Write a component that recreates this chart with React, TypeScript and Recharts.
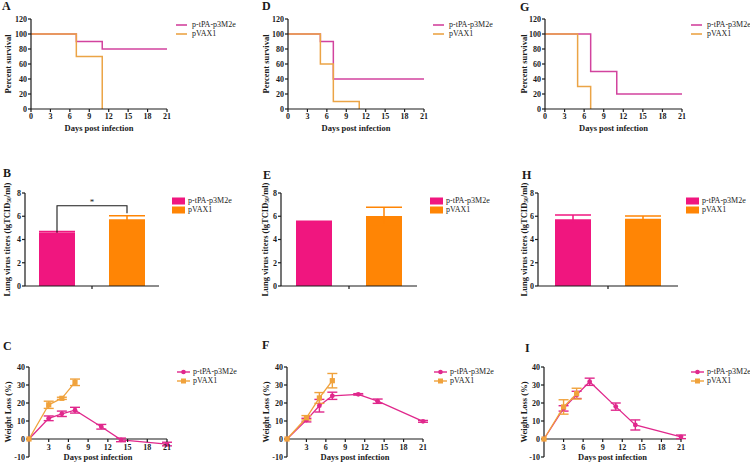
import React from 'react'
import { LineChart, Line, BarChart, Bar, XAxis, YAxis, ErrorBar, ReferenceLine } from 'recharts'

const FONT = '"Liberation Serif", "Times New Roman", serif'
const INK = '#1a1a1a'

const PINK_LINE = '#d2439e'
const ORANGE_LINE = '#eba446'
const PINK_BAR = '#f0167f'
const ORANGE_BAR = '#ff8505'
const PINK_W = '#e0288c'
const ORANGE_W = '#f0a23c'

const seriesNames = ['p-tPA-p3M2e', 'pVAX1']

const dayTicks = [0, 3, 6, 9, 12, 15, 18, 21]
const weightDayTicks = [3, 6, 9, 12, 15, 18, 21]
const survivalTicks = [0, 20, 40, 60, 80, 100, 120]
const titerTicks = [0, 2, 4, 6, 8]
const weightTicks = [-10, 0, 10, 20, 30, 40]

// survival curves (A, D, G)
const survA_tpaDays = [0, 7, 11, 21]
const survA_tpa = [100, 90, 80, 80]
const survA_vaxDays = [0, 7, 11]
const survA_vax = [100, 70, 0]

const survD_tpaDays = [0, 5, 7, 21]
const survD_tpa = [100, 90, 40, 40]
const survD_vaxDays = [0, 5, 7, 11]
const survD_vax = [100, 60, 10, 0]

const survG_tpaDays = [0, 7, 11, 21]
const survG_tpa = [100, 50, 20, 20]
const survG_vaxDays = [0, 5, 7]
const survG_vax = [100, 30, 0]

// lung virus titers (B, E, H): [p-tPA-p3M2e, pVAX1]
const titerB = [4.6, 5.75]
const titerB_err = [0.08, 0.3]
const titerE = [5.53, 6.02]
const titerE_err = [0.05, 0.75]
const titerH = [5.75, 5.78]
const titerH_err = [0.35, 0.25]
const bracketLevel = 6.9
const bracketLegVax = 6.25

// weight loss (C, F, I)
const weightC_tpaDays = [0, 3, 5, 7, 11, 14, 21]
const weightC_tpa = [0, 11.5, 14, 16, 6.8, -0.5, -2.8]
const weightC_tpaErr = [0, 1.3, 1.5, 1.6, 1.3, 1, 1]
const weightC_vaxDays = [0, 3, 5, 7]
const weightC_vax = [0, 19, 22.6, 31.5]
const weightC_vaxErr = [0, 2, 0.6, 1.8]

const weightF_tpaDays = [0, 3, 5, 7, 11, 14, 21]
const weightF_tpa = [0, 10.5, 18.5, 24, 24.8, 21, 9.8]
const weightF_tpaErr = [0, 1, 3.5, 2, 0.4, 1.2, 0.5]
const weightF_vaxDays = [0, 3, 5, 7]
const weightF_vax = [0, 11.8, 22.8, 32.4]
const weightF_vaxErr = [0, 1.2, 3, 4]

const weightI_tpaDays = [0, 3, 5, 7, 11, 14, 21]
const weightI_tpa = [0, 17, 24.5, 31.8, 18, 7.8, 1.2]
const weightI_tpaErr = [0, 1.5, 2, 2, 2, 2.8, 1]
const weightI_vaxDays = [0, 3, 5]
const weightI_vax = [0, 17.8, 25.2]
const weightI_vaxErr = [0, 4, 3]

const toPoints = (days: number[], vals: number[], errs?: number[]) =>
  days.map((d, i) => ({ day: d, v: vals[i], err: errs ? errs[i] : 0 }))

const axisLine = { stroke: INK, strokeWidth: 1.2 }
const tickStyle = { fontSize: 8, fontWeight: 700, fill: INK, fontFamily: FONT }

function YTitle({ px, py, body }: any) {
  return (
    <text
      x={px}
      y={py}
      transform={`rotate(-90 ${px} ${py})`}
      textAnchor="middle"
      dominantBaseline="central"
      fontFamily={FONT}
      fontWeight={700}
      fontSize={8.5}
      fill={INK}
    >
      {body}
    </text>
  )
}

function XTitle({ px, py }: any) {
  return (
    <text x={px} y={py} textAnchor="middle" dominantBaseline="central" fontFamily={FONT} fontWeight={700} fontSize={8.5} fill={INK}>
      Days post infection
    </text>
  )
}

function Letter({ x, y, c }: any) {
  return (
    <div style={{ position: 'absolute', left: x, top: y - 3, fontFamily: FONT, fontWeight: 700, fontSize: 12, lineHeight: '12px', color: INK }}>
      {c}
    </div>
  )
}

function SeriesLegend({ x, y, step, kind, colors }: any) {
  return (
    <div style={{ position: 'absolute', left: x, top: y - step / 2, fontFamily: FONT, fontSize: 8, lineHeight: '8px', color: '#222' }}>
      {seriesNames.map((name, i) => (
        <div key={name} style={{ display: 'flex', alignItems: 'center', height: step, whiteSpace: 'nowrap' }}>
          <svg width={kind === 'line' ? 11 : 13} height={8} style={{ marginRight: kind === 'line' ? 5 : 3 }}>
            {kind === 'line' && <line x1={0} x2={11} y1={4} y2={4} stroke={colors[i]} strokeWidth={1.6} />}
            {kind === 'box' && <rect x={0} y={0.5} width={13} height={7} fill={colors[i]} />}
            {kind === 'marker' && (
              <g>
                <line x1={0} x2={13} y1={4} y2={4} stroke={colors[i]} strokeWidth={1.4} />
                {i === 0 ? <circle cx={6.5} cy={4} r={2.3} fill={colors[i]} /> : <rect x={4} y={1.5} width={5} height={5} fill={colors[i]} />}
              </g>
            )}
          </svg>
          <span>{name}</span>
        </div>
      ))}
    </div>
  )
}

function SurvivalPanel({ left, axisW, plotW, labelX, tpa, vax }: any) {
  const top = 0
  const mTop = 19
  const plotH = 90
  const xH = 24
  const width = axisW + plotW + 10
  const height = mTop + plotH + xH
  return (
    <div style={{ position: 'absolute', left, top }}>
      <LineChart width={width} height={height} margin={{ top: mTop, right: 10, bottom: 0, left: 0 }}>
        <XAxis
          type="number"
          dataKey="day"
          domain={[0, 21]}
          ticks={dayTicks}
          interval={0}
          tick={tickStyle}
          tickSize={3}
          tickMargin={1}
          axisLine={axisLine}
          tickLine={axisLine}
          height={xH}
          label={() => <XTitle px={axisW + plotW / 2} py={128 - top} />}
        />
        <YAxis
          type="number"
          domain={[0, 120]}
          ticks={survivalTicks}
          interval={0}
          tick={tickStyle}
          tickSize={3}
          tickMargin={1}
          axisLine={axisLine}
          tickLine={axisLine}
          width={axisW}
          label={() => <YTitle px={labelX} py={mTop + plotH / 2} body="Percent survival" />}
        />
        <Line data={tpa} dataKey="v" type="stepAfter" stroke={PINK_LINE} strokeWidth={1.5} dot={false} isAnimationActive={false} />
        <Line data={vax} dataKey="v" type="stepAfter" stroke={ORANGE_LINE} strokeWidth={1.5} dot={false} isAnimationActive={false} />
      </LineChart>
    </div>
  )
}

const BAR_SIZE = 36
const BAR_GAP = 34

function Bracket(props: any) {
  const { x, y, width, height, value } = props
  const v = Number(Array.isArray(value) ? value[1] : value)
  if (!v || !height) return null
  const ppu = height / v
  const base = y + height
  const yB = base - bracketLevel * ppu
  const yO = base - bracketLegVax * ppu
  const cxP = x + width / 2
  const cxO = cxP + width + BAR_GAP
  return (
    <g>
      <path d={`M${cxP},${y} V${yB} H${cxO} V${yO}`} fill="none" stroke={INK} strokeWidth={1.1} />
      <text x={(cxP + cxO) / 2} y={yB - 1} textAnchor="middle" fontFamily={FONT} fontSize={9} fill={INK}>
        *
      </text>
    </g>
  )
}

function TiterPanel({ left, axisW, plotW, labelX, vals, errs, bracket }: any) {
  const top = 160
  const mTop = 33
  const plotH = 93
  const xH = 10
  const width = axisW + plotW + 10
  const height = mTop + plotH + xH
  const data = [{ g: '', tpa: vals[0], tpaErr: errs[0], vax: vals[1], vaxErr: errs[1] }]
  return (
    <div style={{ position: 'absolute', left, top }}>
      <BarChart width={width} height={height} data={data} margin={{ top: mTop, right: 10, bottom: 0, left: 0 }} barSize={BAR_SIZE} barGap={BAR_GAP}>
        <XAxis dataKey="g" tickFormatter={() => ''} tickSize={3} axisLine={axisLine} tickLine={axisLine} height={xH} />
        <YAxis
          type="number"
          domain={[0, 8]}
          ticks={titerTicks}
          interval={0}
          tick={tickStyle}
          tickSize={3}
          tickMargin={1}
          axisLine={axisLine}
          tickLine={axisLine}
          width={axisW}
          label={() => (
            <YTitle
              px={labelX}
              py={mTop + plotH / 2}
              body={
                <>
                  Lung virus titers (lgTCID
                  <tspan fontSize={5.5} dy={2}>50</tspan>
                  <tspan dy={-2}>/ml)</tspan>
                </>
              }
            />
          )}
        />
        <Bar dataKey="tpa" fill={PINK_BAR} isAnimationActive={false} label={bracket ? (p: any) => <Bracket {...p} /> : false}>
          <ErrorBar dataKey="tpaErr" width={18} stroke={PINK_BAR} strokeWidth={1.5} direction="y" />
        </Bar>
        <Bar dataKey="vax" fill={ORANGE_BAR} isAnimationActive={false}>
          <ErrorBar dataKey="vaxErr" width={18} stroke={ORANGE_BAR} strokeWidth={1.5} direction="y" />
        </Bar>
      </BarChart>
    </div>
  )
}

function ZeroTick(props: any) {
  const { x, y, payload, shift } = props
  const y0 = y - shift
  return (
    <g>
      <line x1={x} x2={x} y1={y0} y2={y0 + 3} stroke={INK} strokeWidth={1.2} />
      <text x={x} y={y0 + 11} textAnchor="middle" {...tickStyle}>
        {payload.value}
      </text>
    </g>
  )
}

const circleDot = (color: string) => (p: any) => <circle key={`c${p.index}`} cx={p.cx} cy={p.cy} r={2.4} fill={color} />
const squareDot = (color: string) => (p: any) => <rect key={`s${p.index}`} x={p.cx - 2.6} y={p.cy - 2.6} width={5.2} height={5.2} fill={color} />

function WeightPanel({ left, axisW, plotW, labelX, tpa, vax }: any) {
  const top = 330
  const mTop = 37
  const plotH = 90
  const xH = 6
  const width = axisW + plotW + 10
  const height = mTop + plotH + xH
  const zeroShift = (plotH * 10) / 50
  return (
    <div style={{ position: 'absolute', left, top }}>
      <LineChart width={width} height={height} margin={{ top: mTop, right: 10, bottom: 0, left: 0 }}>
        <XAxis
          type="number"
          dataKey="day"
          domain={[0, 21]}
          ticks={weightDayTicks}
          interval={0}
          axisLine={false}
          tickLine={false}
          tickSize={0}
          tickMargin={0}
          tick={(p: any) => <ZeroTick {...p} shift={zeroShift} />}
          height={xH}
          label={() => <XTitle px={axisW + plotW / 2} py={457 - top} />}
        />
        <YAxis
          type="number"
          domain={[-10, 40]}
          ticks={weightTicks}
          interval={0}
          tick={tickStyle}
          tickSize={3}
          tickMargin={1}
          axisLine={axisLine}
          tickLine={axisLine}
          width={axisW}
          label={() => <YTitle px={labelX} py={mTop + plotH / 2} body="Weight Loss (%)" />}
        />
        <ReferenceLine y={0} stroke={INK} strokeWidth={1.2} />
        <Line data={tpa} dataKey="v" stroke={PINK_W} strokeWidth={1.3} dot={circleDot(PINK_W)} isAnimationActive={false}>
          <ErrorBar dataKey="err" width={5} stroke={PINK_W} strokeWidth={1.4} direction="y" />
        </Line>
        <Line data={vax} dataKey="v" stroke={ORANGE_W} strokeWidth={1.3} dot={squareDot(ORANGE_W)} isAnimationActive={false}>
          <ErrorBar dataKey="err" width={5} stroke={ORANGE_W} strokeWidth={1.4} direction="y" />
        </Line>
      </LineChart>
    </div>
  )
}

export default function App() {
  return (
    <div style={{ position: 'fixed', left: 0, top: 0, width: 750, height: 463, background: '#fff', overflow: 'hidden' }}>
      <SurvivalPanel left={0} axisW={31} plotW={136} labelX={7.5} tpa={toPoints(survA_tpaDays, survA_tpa)} vax={toPoints(survA_vaxDays, survA_vax)} />
      <SurvivalPanel left={257} axisW={31} plotW={136} labelX={8.5} tpa={toPoints(survD_tpaDays, survD_tpa)} vax={toPoints(survD_vaxDays, survD_vax)} />
      <SurvivalPanel left={514} axisW={31} plotW={137} labelX={9.5} tpa={toPoints(survG_tpaDays, survG_tpa)} vax={toPoints(survG_vaxDays, survG_vax)} />

      <TiterPanel left={0} axisW={25} plotW={134} labelX={6.5} vals={titerB} errs={titerB_err} bracket />
      <TiterPanel left={256} axisW={25} plotW={136} labelX={9} vals={titerE} errs={titerE_err} />
      <TiterPanel left={512} axisW={26} plotW={140} labelX={12} vals={titerH} errs={titerH_err} />

      <WeightPanel left={0} axisW={29} plotW={138} labelX={7.5} tpa={toPoints(weightC_tpaDays, weightC_tpa, weightC_tpaErr)} vax={toPoints(weightC_vaxDays, weightC_vax, weightC_vaxErr)} />
      <WeightPanel left={257} axisW={30} plotW={136} labelX={8.5} tpa={toPoints(weightF_tpaDays, weightF_tpa, weightF_tpaErr)} vax={toPoints(weightF_vaxDays, weightF_vax, weightF_vaxErr)} />
      <WeightPanel left={514} axisW={30} plotW={137} labelX={10} tpa={toPoints(weightI_tpaDays, weightI_tpa, weightI_tpaErr)} vax={toPoints(weightI_vaxDays, weightI_vax, weightI_vaxErr)} />

      <SeriesLegend x={176} y={25} step={8.5} kind="line" colors={[PINK_LINE, ORANGE_LINE]} />
      <SeriesLegend x={433} y={25} step={8.5} kind="line" colors={[PINK_LINE, ORANGE_LINE]} />
      <SeriesLegend x={691} y={25} step={8.5} kind="line" colors={[PINK_LINE, ORANGE_LINE]} />
      <SeriesLegend x={172} y={200.5} step={9.5} kind="box" colors={[PINK_BAR, ORANGE_BAR]} />
      <SeriesLegend x={430} y={200.5} step={9.5} kind="box" colors={[PINK_BAR, ORANGE_BAR]} />
      <SeriesLegend x={686} y={200.5} step={9.5} kind="box" colors={[PINK_BAR, ORANGE_BAR]} />
      <SeriesLegend x={177} y={372} step={9} kind="marker" colors={[PINK_W, ORANGE_W]} />
      <SeriesLegend x={434} y={372} step={9} kind="marker" colors={[PINK_W, ORANGE_W]} />
      <SeriesLegend x={691} y={372} step={9} kind="marker" colors={[PINK_W, ORANGE_W]} />

      <Letter x={2} y={3} c="A" />
      <Letter x={262} y={3} c="D" />
      <Letter x={520} y={4} c="G" />
      <Letter x={3} y={170} c="B" />
      <Letter x={263} y={172} c="E" />
      <Letter x={522} y={172} c="H" />
      <Letter x={3} y={343} c="C" />
      <Letter x={262} y={342} c="F" />
      <Letter x={525} y={345} c="I" />
    </div>
  )
}
